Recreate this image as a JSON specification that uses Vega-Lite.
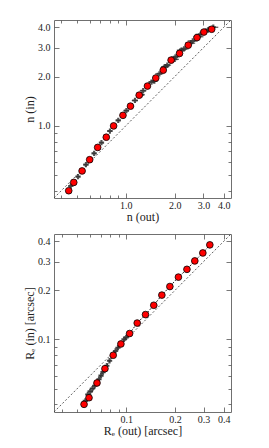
{
  "$schema": "https://vega.github.io/schema/vega-lite/v6.json",
  "autosize": {"type": "pad"},
  "padding": {"left": 23, "top": 16, "right": 5, "bottom": 5},
  "background": "white",
  "bounds": "flush",
  "spacing": 36,
  "datasets": {
    "diagTop": [{"x": 0.363, "y": 0.363}, {"x": 4.43, "y": 4.43}],
    "diagBot": [{"x": 0.0359, "y": 0.0359}, {"x": 0.443, "y": 0.443}],
    "redTop": [
      {"x": 0.447, "y": 0.402}, {"x": 0.480, "y": 0.452}, {"x": 0.540, "y": 0.531},
      {"x": 0.601, "y": 0.622}, {"x": 0.673, "y": 0.739}, {"x": 0.760, "y": 0.853},
      {"x": 0.843, "y": 1.00}, {"x": 0.962, "y": 1.16}, {"x": 1.07, "y": 1.32},
      {"x": 1.21, "y": 1.54}, {"x": 1.36, "y": 1.75}, {"x": 1.53, "y": 1.96},
      {"x": 1.70, "y": 2.19}, {"x": 1.90, "y": 2.52}, {"x": 2.14, "y": 2.77},
      {"x": 2.42, "y": 3.11}, {"x": 2.74, "y": 3.46}, {"x": 3.02, "y": 3.74},
      {"x": 3.37, "y": 3.89}
    ],
    "crossTop": [
      {"x": 0.46, "y": 0.43, "xlo": 0.45, "xhi": 0.47},
      {"x": 0.51, "y": 0.49, "xlo": 0.495, "xhi": 0.525},
      {"x": 0.57, "y": 0.58, "xlo": 0.55, "xhi": 0.59},
      {"x": 0.64, "y": 0.68, "xlo": 0.62, "xhi": 0.66},
      {"x": 0.71, "y": 0.79, "xlo": 0.69, "xhi": 0.73},
      {"x": 0.80, "y": 0.93, "xlo": 0.77, "xhi": 0.83},
      {"x": 0.90, "y": 1.08, "xlo": 0.87, "xhi": 0.93},
      {"x": 1.01, "y": 1.24, "xlo": 0.97, "xhi": 1.05},
      {"x": 1.14, "y": 1.43, "xlo": 1.09, "xhi": 1.19},
      {"x": 1.25, "y": 1.55, "xlo": 1.19, "xhi": 1.31},
      {"x": 1.28, "y": 1.64, "xlo": 1.22, "xhi": 1.34},
      {"x": 1.44, "y": 1.85, "xlo": 1.37, "xhi": 1.51},
      {"x": 1.50, "y": 1.88, "xlo": 1.42, "xhi": 1.58},
      {"x": 1.61, "y": 2.08, "xlo": 1.52, "xhi": 1.70},
      {"x": 1.75, "y": 2.30, "xlo": 1.65, "xhi": 1.85},
      {"x": 1.80, "y": 2.35, "xlo": 1.70, "xhi": 1.90},
      {"x": 2.00, "y": 2.55, "xlo": 1.88, "xhi": 2.12},
      {"x": 2.02, "y": 2.64, "xlo": 1.90, "xhi": 2.14},
      {"x": 2.20, "y": 2.90, "xlo": 2.06, "xhi": 2.34},
      {"x": 2.28, "y": 2.95, "xlo": 2.13, "xhi": 2.43},
      {"x": 2.50, "y": 3.20, "xlo": 2.33, "xhi": 2.67},
      {"x": 2.58, "y": 3.30, "xlo": 2.40, "xhi": 2.76},
      {"x": 2.80, "y": 3.50, "xlo": 2.60, "xhi": 3.00},
      {"x": 2.88, "y": 3.62, "xlo": 2.68, "xhi": 3.08},
      {"x": 3.10, "y": 3.80, "xlo": 2.88, "xhi": 3.32},
      {"x": 3.20, "y": 3.85, "xlo": 2.97, "xhi": 3.43},
      {"x": 3.45, "y": 4.00, "xlo": 3.20, "xhi": 3.70}
    ],
    "redBot": [
      {"x": 0.0550, "y": 0.0400}, {"x": 0.0590, "y": 0.0439}, {"x": 0.0661, "y": 0.0541},
      {"x": 0.0740, "y": 0.0662}, {"x": 0.0832, "y": 0.0800}, {"x": 0.0928, "y": 0.0938},
      {"x": 0.105, "y": 0.1087}, {"x": 0.117, "y": 0.126}, {"x": 0.1316, "y": 0.142},
      {"x": 0.148, "y": 0.162}, {"x": 0.166, "y": 0.187}, {"x": 0.186, "y": 0.211},
      {"x": 0.210, "y": 0.241}, {"x": 0.237, "y": 0.269}, {"x": 0.265, "y": 0.303},
      {"x": 0.297, "y": 0.339}, {"x": 0.328, "y": 0.380}
    ],
    "crossBot": [
      {"x": 0.056, "y": 0.042, "xlo": 0.0545, "xhi": 0.0575},
      {"x": 0.058, "y": 0.046, "xlo": 0.0565, "xhi": 0.0595},
      {"x": 0.060, "y": 0.048, "xlo": 0.0585, "xhi": 0.0615},
      {"x": 0.062, "y": 0.050, "xlo": 0.0600, "xhi": 0.0640},
      {"x": 0.064, "y": 0.052, "xlo": 0.0620, "xhi": 0.0660},
      {"x": 0.068, "y": 0.057, "xlo": 0.0660, "xhi": 0.0700},
      {"x": 0.070, "y": 0.060, "xlo": 0.0680, "xhi": 0.0720},
      {"x": 0.072, "y": 0.063, "xlo": 0.0700, "xhi": 0.0740},
      {"x": 0.076, "y": 0.069, "xlo": 0.0740, "xhi": 0.0780},
      {"x": 0.079, "y": 0.074, "xlo": 0.0770, "xhi": 0.0810},
      {"x": 0.086, "y": 0.085, "xlo": 0.0840, "xhi": 0.0880},
      {"x": 0.089, "y": 0.089, "xlo": 0.0870, "xhi": 0.0910},
      {"x": 0.097, "y": 0.100, "xlo": 0.0950, "xhi": 0.0990},
      {"x": 0.100, "y": 0.103, "xlo": 0.0980, "xhi": 0.1020}
    ]
  },
  "config": {
    "view": {"stroke": "#707070", "strokeWidth": 1},
    "axis": {
      "domain": false, "grid": false,
      "labelFont": "Liberation Serif", "titleFont": "Liberation Serif",
      "labelFontSize": 10, "titleFontSize": 12, "titleFontWeight": "normal",
      "labelColor": "#222", "titleColor": "#222", "tickColor": "#555",
      "tickWidth": 0.8, "labelPadding": 9, "titlePadding": 1
    },
    "axisBottom": {"labelPadding": 7}
  },
  "vconcat": [
    {
      "width": 177, "height": 178,
      "resolve": {"axis": {"x": "independent", "y": "independent"}},
      "layer": [
        {
          "data": {"name": "diagTop"},
          "mark": {"type": "line", "color": "#333", "strokeWidth": 0.8, "strokeDash": [2, 2]},
          "encoding": {
            "x": {"field": "x", "type": "quantitative", "scale": {"type": "log", "domain": [0.363, 4.43], "nice": false},
              "axis": {"orient": "bottom", "title": "n (out)",
                "values": [0.4, 0.5, 0.6, 0.7, 0.8, 0.9, 1, 2, 3, 4],
                "labelExpr": "indexof([1,2,3,4], datum.value) >= 0 ? format(datum.value, '.1f') : ''",
                "tickSize": {"condition": {"test": "indexof([1,2,3,4], datum.value) >= 0", "value": -5}, "value": -3}}},
            "y": {"field": "y", "type": "quantitative", "scale": {"type": "log", "domain": [0.363, 4.43], "nice": false},
              "axis": {"orient": "left", "title": "n (in)",
                "values": [0.4, 0.5, 0.6, 0.7, 0.8, 0.9, 1, 2, 3, 4],
                "labelExpr": "indexof([1,2,3,4], datum.value) >= 0 ? format(datum.value, '.1f') : ''",
                "tickSize": {"condition": {"test": "indexof([1,2,3,4], datum.value) >= 0", "value": -5}, "value": -3}}}
          }
        },
        {
          "data": {"name": "crossTop"},
          "mark": {"type": "rule", "color": "#333", "strokeWidth": 1.2, "opacity": 0.85},
          "encoding": {
            "x": {"field": "xlo", "type": "quantitative", "scale": {"type": "log", "domain": [0.363, 4.43], "nice": false}, "axis": null},
            "x2": {"field": "xhi"},
            "y": {"field": "y", "type": "quantitative", "scale": {"type": "log", "domain": [0.363, 4.43], "nice": false}, "axis": null}
          }
        },
        {
          "data": {"name": "crossTop"},
          "mark": {"type": "point", "shape": "cross", "color": "#333", "filled": true, "size": 28, "opacity": 0.85},
          "encoding": {
            "x": {"field": "x", "type": "quantitative", "scale": {"type": "log", "domain": [0.363, 4.43], "nice": false}, "axis": null},
            "y": {"field": "y", "type": "quantitative", "scale": {"type": "log", "domain": [0.363, 4.43], "nice": false}, "axis": null}
          }
        },
        {
          "data": {"name": "redTop"},
          "mark": {"type": "point", "filled": true, "color": "#ff0000", "stroke": "#000", "strokeWidth": 0.8, "size": 45, "opacity": 1},
          "encoding": {
            "x": {"field": "x", "type": "quantitative", "scale": {"type": "log", "domain": [0.363, 4.43], "nice": false}, "axis": null},
            "y": {"field": "y", "type": "quantitative", "scale": {"type": "log", "domain": [0.363, 4.43], "nice": false}, "axis": null}
          }
        },
        {
          "data": {"name": "diagTop"},
          "mark": {"type": "point", "opacity": 0},
          "encoding": {
            "x": {"field": "x", "type": "quantitative", "scale": {"type": "log", "domain": [0.363, 4.43], "nice": false},
              "axis": {"orient": "top", "title": null, "labels": false,
                "values": [0.4, 0.5, 0.6, 0.7, 0.8, 0.9, 1, 2, 3, 4],
                "tickSize": {"condition": {"test": "indexof([1,2,3,4], datum.value) >= 0", "value": -5}, "value": -3}}},
            "y": {"field": "y", "type": "quantitative", "scale": {"type": "log", "domain": [0.363, 4.43], "nice": false},
              "axis": {"orient": "right", "title": null, "labels": false,
                "values": [0.4, 0.5, 0.6, 0.7, 0.8, 0.9, 1, 2, 3, 4],
                "tickSize": {"condition": {"test": "indexof([1,2,3,4], datum.value) >= 0", "value": -5}, "value": -3}}}
          }
        }
      ]
    },
    {
      "width": 177, "height": 178,
      "resolve": {"axis": {"x": "independent", "y": "independent"}},
      "layer": [
        {
          "data": {"name": "diagBot"},
          "mark": {"type": "line", "color": "#333", "strokeWidth": 0.8, "strokeDash": [2, 2]},
          "encoding": {
            "x": {"field": "x", "type": "quantitative", "scale": {"type": "log", "domain": [0.0359, 0.443], "nice": false},
              "axis": {"orient": "bottom", "title": "Rₑ (out) [arcsec]",
                "values": [0.04, 0.05, 0.06, 0.07, 0.08, 0.09, 0.1, 0.2, 0.3, 0.4],
                "labelExpr": "indexof([0.1,0.2,0.3,0.4], datum.value) >= 0 ? format(datum.value, '.1f') : ''",
                "tickSize": {"condition": {"test": "indexof([0.1,0.2,0.3,0.4], datum.value) >= 0", "value": -5}, "value": -3}}},
            "y": {"field": "y", "type": "quantitative", "scale": {"type": "log", "domain": [0.0359, 0.443], "nice": false},
              "axis": {"orient": "left", "title": "Rₑ (in) [arcsec]",
                "values": [0.04, 0.05, 0.06, 0.07, 0.08, 0.09, 0.1, 0.2, 0.3, 0.4],
                "labelExpr": "indexof([0.1,0.2,0.3,0.4], datum.value) >= 0 ? format(datum.value, '.1f') : ''",
                "tickSize": {"condition": {"test": "indexof([0.1,0.2,0.3,0.4], datum.value) >= 0", "value": -5}, "value": -3}}}
          }
        },
        {
          "data": {"name": "redBot"},
          "mark": {"type": "line", "color": "#222", "strokeWidth": 1, "strokeDash": [2, 1.5]},
          "encoding": {
            "x": {"field": "x", "type": "quantitative", "scale": {"type": "log", "domain": [0.0359, 0.443], "nice": false}, "axis": null},
            "y": {"field": "y", "type": "quantitative", "scale": {"type": "log", "domain": [0.0359, 0.443], "nice": false}, "axis": null}
          }
        },
        {
          "data": {"name": "crossBot"},
          "mark": {"type": "rule", "color": "#333", "strokeWidth": 1.2, "opacity": 0.85},
          "encoding": {
            "x": {"field": "xlo", "type": "quantitative", "scale": {"type": "log", "domain": [0.0359, 0.443], "nice": false}, "axis": null},
            "x2": {"field": "xhi"},
            "y": {"field": "y", "type": "quantitative", "scale": {"type": "log", "domain": [0.0359, 0.443], "nice": false}, "axis": null}
          }
        },
        {
          "data": {"name": "crossBot"},
          "mark": {"type": "point", "shape": "cross", "color": "#333", "filled": true, "size": 28, "opacity": 0.85},
          "encoding": {
            "x": {"field": "x", "type": "quantitative", "scale": {"type": "log", "domain": [0.0359, 0.443], "nice": false}, "axis": null},
            "y": {"field": "y", "type": "quantitative", "scale": {"type": "log", "domain": [0.0359, 0.443], "nice": false}, "axis": null}
          }
        },
        {
          "data": {"name": "redBot"},
          "mark": {"type": "point", "filled": true, "color": "#ff0000", "stroke": "#000", "strokeWidth": 0.8, "size": 45, "opacity": 1},
          "encoding": {
            "x": {"field": "x", "type": "quantitative", "scale": {"type": "log", "domain": [0.0359, 0.443], "nice": false}, "axis": null},
            "y": {"field": "y", "type": "quantitative", "scale": {"type": "log", "domain": [0.0359, 0.443], "nice": false}, "axis": null}
          }
        },
        {
          "data": {"name": "diagBot"},
          "mark": {"type": "point", "opacity": 0},
          "encoding": {
            "x": {"field": "x", "type": "quantitative", "scale": {"type": "log", "domain": [0.0359, 0.443], "nice": false},
              "axis": {"orient": "top", "title": null, "labels": false,
                "values": [0.04, 0.05, 0.06, 0.07, 0.08, 0.09, 0.1, 0.2, 0.3, 0.4],
                "tickSize": {"condition": {"test": "indexof([0.1,0.2,0.3,0.4], datum.value) >= 0", "value": -5}, "value": -3}}},
            "y": {"field": "y", "type": "quantitative", "scale": {"type": "log", "domain": [0.0359, 0.443], "nice": false},
              "axis": {"orient": "right", "title": null, "labels": false,
                "values": [0.04, 0.05, 0.06, 0.07, 0.08, 0.09, 0.1, 0.2, 0.3, 0.4],
                "tickSize": {"condition": {"test": "indexof([0.1,0.2,0.3,0.4], datum.value) >= 0", "value": -5}, "value": -3}}}
          }
        }
      ]
    }
  ]
}
